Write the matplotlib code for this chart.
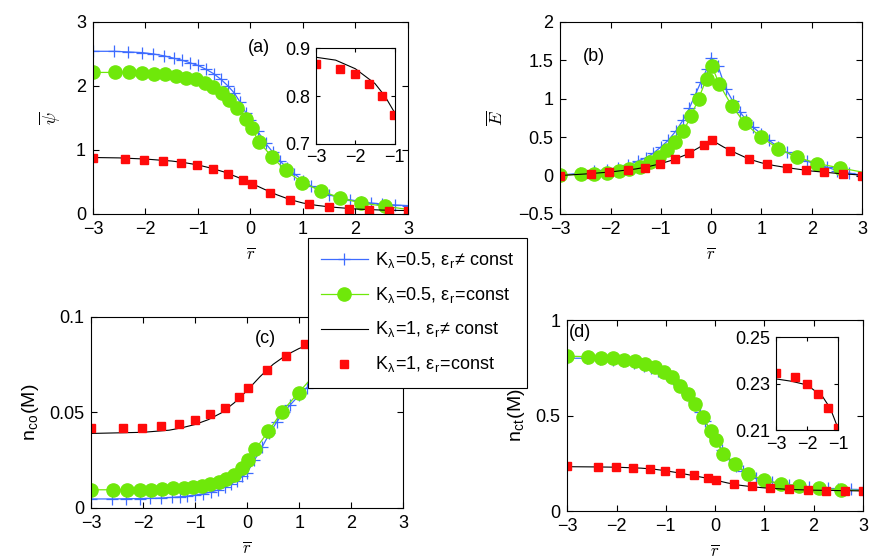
import numpy as np
import matplotlib
matplotlib.use('Agg')
import matplotlib.pyplot as plt
from matplotlib.ticker import FuncFormatter

plt.rcParams['font.family'] = ['Liberation Sans', 'DejaVu Sans']
plt.rcParams['mathtext.fontset'] = 'cm'
plt.rcParams['xtick.direction'] = 'in'
plt.rcParams['ytick.direction'] = 'in'
plt.rcParams['xtick.top'] = True
plt.rcParams['ytick.right'] = True

# malla de cada serie
bx = [-3, -2.6, -2.33, -2.07, -1.86, -1.65, -1.45, -1.3, -1.15, -1.0, -0.85, -0.7, -0.56,
      -0.43, -0.31, -0.2, -0.09, 0.0, 0.14, 0.29, 0.43, 0.57, 0.7, 0.83, 1.0, 1.15, 1.33,
      1.5, 1.7, 1.9, 2.1, 2.3, 2.5, 2.75, 3.0]
gx = [-3, -2.58, -2.32, -2.07, -1.84, -1.63, -1.42, -1.22, -1.04, -0.87, -0.71, -0.55,
      -0.40, -0.25, -0.09, 0.02, 0.16, 0.41, 0.67, 0.99, 1.34, 1.71, 2.11, 2.56, 3.0]
kx = [-3, -2.5, -2, -1.5, -1.25, -1, -0.75, -0.5, -0.25, 0, 0.25, 0.5, 0.75, 1, 1.25,
      1.5, 2, 2.5, 3]
rx = [-3, -2.38, -2.02, -1.66, -1.32, -1.01, -0.72, -0.43, -0.15, 0.02, 0.38, 0.75, 1.12,
      1.5, 1.88, 2.25, 2.63, 3.0]

# (a) psi
psi_blue = [2.54, 2.54, 2.53, 2.52, 2.50, 2.47, 2.43, 2.40, 2.36, 2.32, 2.26, 2.19, 2.10,
            2.00, 1.89, 1.75, 1.58, 1.47, 1.29, 1.10, 0.96, 0.82, 0.72, 0.63, 0.52, 0.44,
            0.36, 0.30, 0.25, 0.22, 0.19, 0.17, 0.155, 0.14, 0.13]
psi_green = [2.21, 2.21, 2.21, 2.205, 2.19, 2.18, 2.16, 2.13, 2.10, 2.05, 1.98, 1.89, 1.78,
             1.66, 1.49, 1.34, 1.13, 0.89, 0.68, 0.49, 0.36, 0.25, 0.17, 0.12, 0.07]
psi_black = [0.881, 0.875, 0.857, 0.826, 0.80, 0.765, 0.715, 0.655, 0.575, 0.485, 0.39,
             0.30, 0.225, 0.17, 0.135, 0.11, 0.077, 0.06, 0.052]
psi_red = [0.866, 0.857, 0.845, 0.826, 0.80, 0.76, 0.70, 0.63, 0.535, 0.47, 0.32, 0.22,
           0.15, 0.11, 0.078, 0.062, 0.05, 0.047]

# (b) E
E_blue = [0.005, 0.03, 0.055, 0.077, 0.10, 0.135, 0.19, 0.23, 0.29, 0.37, 0.46, 0.58, 0.72,
          0.88, 1.06, 1.22, 1.38, 1.53, 1.42, 1.13, 0.97, 0.83, 0.72, 0.63, 0.54, 0.46,
          0.37, 0.30, 0.24, 0.19, 0.14, 0.11, 0.065, 0.03, 0.005]
E_green = [0.005, 0.015, 0.024, 0.037, 0.055, 0.08, 0.11, 0.17, 0.24, 0.33, 0.44, 0.58,
           0.77, 1.0, 1.26, 1.42, 1.19, 0.91, 0.68, 0.50, 0.35, 0.24, 0.155, 0.10, 0.045]
E_black = [0.0, 0.02, 0.046, 0.085, 0.115, 0.155, 0.205, 0.27, 0.36, 0.465, 0.37, 0.29,
           0.215, 0.165, 0.13, 0.103, 0.058, 0.028, 0.005]
E_red = [0.0, 0.024, 0.046, 0.07, 0.10, 0.155, 0.212, 0.295, 0.40, 0.465, 0.32, 0.215,
         0.15, 0.103, 0.066, 0.04, 0.02, 0.0]

# (c) n_co
nco_blue = [0.0047, 0.0047, 0.0048, 0.0049, 0.005, 0.0052, 0.0055, 0.0058, 0.0062, 0.0067,
            0.0074, 0.0083, 0.0094, 0.0108, 0.0125, 0.0143, 0.0165, 0.0185, 0.025, 0.032,
            0.039, 0.045, 0.050, 0.054, 0.059, 0.063, 0.068, 0.073, 0.078, 0.082, 0.085,
            0.087, 0.089, 0.090, 0.091]
nco_green = [0.0095, 0.0095, 0.0095, 0.0095, 0.0096, 0.0098, 0.0102, 0.0105, 0.0109,
             0.0116, 0.0123, 0.0135, 0.0151, 0.0174, 0.0211, 0.0253, 0.0307, 0.0402,
             0.0504, 0.0604, 0.071, 0.080, 0.086, 0.089, 0.091]
nco_black = [0.039, 0.0393, 0.0396, 0.0407, 0.042, 0.0437, 0.0462, 0.0497, 0.055, 0.0615,
             0.0688, 0.0752, 0.080, 0.0835, 0.086, 0.088, 0.090, 0.091, 0.092]
nco_red = [0.0416, 0.0419, 0.0421, 0.0428, 0.0442, 0.0463, 0.049, 0.0525, 0.058, 0.0628,
           0.0721, 0.0796, 0.0856, 0.090, 0.093, 0.095, 0.096, 0.097]

# (d) n_ct
nct_blue = [0.80, 0.80, 0.795, 0.79, 0.785, 0.775, 0.76, 0.75, 0.735, 0.715, 0.69, 0.655,
            0.615, 0.57, 0.52, 0.47, 0.42, 0.38, 0.32, 0.27, 0.235, 0.21, 0.19, 0.175,
            0.162, 0.152, 0.144, 0.138, 0.132, 0.127, 0.122, 0.118, 0.115, 0.113, 0.112]
nct_green = [0.811, 0.808, 0.80, 0.80, 0.792, 0.783, 0.77, 0.755, 0.73, 0.70, 0.654, 0.612,
             0.56, 0.49, 0.42, 0.37, 0.30, 0.245, 0.196, 0.161, 0.143, 0.131, 0.12, 0.11,
             0.108]
nct_black = [0.232, 0.231, 0.2294, 0.2244, 0.2193, 0.2107, 0.200, 0.188, 0.176, 0.162,
             0.147, 0.135, 0.127, 0.121, 0.117, 0.113, 0.109, 0.107, 0.105]
nct_red = [0.2345, 0.2328, 0.230, 0.2255, 0.2196, 0.2111, 0.201, 0.19, 0.173, 0.161,
           0.142, 0.129, 0.121, 0.114, 0.110, 0.107, 0.106, 0.105]

etiquetas = [r'K$_\mathregular{λ}$=0.5, ε$_\mathregular{r}$≠ const',
             r'K$_\mathregular{λ}$=0.5, ε$_\mathregular{r}$=const',
             r'K$_\mathregular{λ}$=1, ε$_\mathregular{r}$≠ const',
             r'K$_\mathregular{λ}$=1, ε$_\mathregular{r}$=const']

azul = '#3d6bff'
verde = '#6fe80a'
rojo = '#ff0a0a'

fmt = FuncFormatter(lambda v, p: ('%g' % v).replace('-', '\u2212'))


def dibuja(ax, yb, yg, yk, yr):
    h1, = ax.plot(bx, yb, color=azul, lw=0.9, marker='+', ms=8, mew=0.9)
    h2, = ax.plot(gx, yg, color=verde, lw=0.9, marker='o', ms=9.5, mec=verde,
                  markevery=list(range(len(gx) - 1)))
    h3, = ax.plot(kx, yk, color='black', lw=0.8)
    h4, = ax.plot(rx, yr, ls='none', marker='s', ms=5.5, color=rojo)
    ax.set_xlim(-3, 3)
    ax.set_xticks(range(-3, 4))
    ax.xaxis.set_major_formatter(fmt)
    ax.yaxis.set_major_formatter(fmt)
    ax.tick_params(labelsize=13, length=4)
    ax.tick_params(axis='x', pad=5)
    ax.tick_params(axis='y', pad=5)
    ax.set_xlabel(r'$\overline{r}$', fontsize=12, labelpad=6)
    return [h1, h2, h3, h4]


fig = plt.figure(figsize=(8.85, 5.6), dpi=100)

ax1 = fig.add_axes([0.105, 0.618, 0.356, 0.343])
hs = dibuja(ax1, psi_blue, psi_green, psi_black, psi_red)
ax1.set_ylim(0, 3)
ax1.set_yticks([0, 1, 2, 3])
ax1.set_ylabel(r'$\overline{\psi}$', fontsize=13, labelpad=10)
ax1.text(0.16, 2.6, '(a)', fontsize=13, ha='center', va='center')

ax2 = fig.add_axes([0.633, 0.618, 0.341, 0.343])
dibuja(ax2, E_blue, E_green, E_black, E_red)
ax2.set_ylim(-0.5, 2)
ax2.set_yticks([-0.5, 0, 0.5, 1, 1.5, 2])
ax2.set_ylabel(r'$\overline{E}$', fontsize=13, labelpad=8)
ax2.text(-2.32, 1.55, '(b)', fontsize=13, ha='center', va='center')

ax3 = fig.add_axes([0.103, 0.093, 0.3525, 0.341])
dibuja(ax3, nco_blue, nco_green, nco_black, nco_red)
ax3.set_ylim(0, 0.1)
ax3.set_yticks([0, 0.05, 0.1])
ax3.set_ylabel(r'n$_\mathregular{co}$(M)', fontsize=14, labelpad=6)
ax3.text(0.35, 0.0885, '(c)', fontsize=13, ha='center', va='center')

ax4 = fig.add_axes([0.641, 0.0875, 0.334, 0.341])
dibuja(ax4, nct_blue, nct_green, nct_black, nct_red)
ax4.set_ylim(0, 1)
ax4.set_yticks([0, 0.5, 1])
ax4.set_ylabel(r'n$_\mathregular{ct}$(M)', fontsize=14, labelpad=6)
ax4.text(-2.74, 0.937, '(d)', fontsize=13, ha='center', va='center')

# insets
in1 = fig.add_axes([0.357, 0.743, 0.089, 0.171])
in1.plot(kx, psi_black, color='black', lw=0.8)
in1.plot(rx, psi_red, ls='none', marker='s', ms=5.5, color=rojo)
in1.set_xlim(-3, -1)
in1.set_ylim(0.7, 0.9)
in1.set_xticks([-3, -2, -1])
in1.set_yticks([0.7, 0.8, 0.9])

in4 = fig.add_axes([0.877, 0.232, 0.070, 0.166])
in4.plot(kx, nct_black, color='black', lw=0.8)
in4.plot(rx, nct_red, ls='none', marker='s', ms=5.5, color=rojo)
in4.set_xlim(-3, -1)
in4.set_ylim(0.21, 0.25)
in4.set_xticks([-3, -2, -1])
in4.set_yticks([0.21, 0.23, 0.25])

for ins in (in1, in4):
    ins.xaxis.set_major_formatter(fmt)
    ins.yaxis.set_major_formatter(fmt)
    ins.tick_params(labelsize=13, length=3, pad=4)

leg = fig.legend(hs, etiquetas, loc='upper left', bbox_to_anchor=(0.348, 0.575),
                 fontsize=13, handlelength=2.6, handletextpad=0.4, labelspacing=0.82,
                 borderpad=0.7, borderaxespad=0, fancybox=False, framealpha=1,
                 edgecolor='black')
leg.get_frame().set_linewidth(0.8)
leg.set_zorder(10)

fig.savefig('out.png', dpi=100)
